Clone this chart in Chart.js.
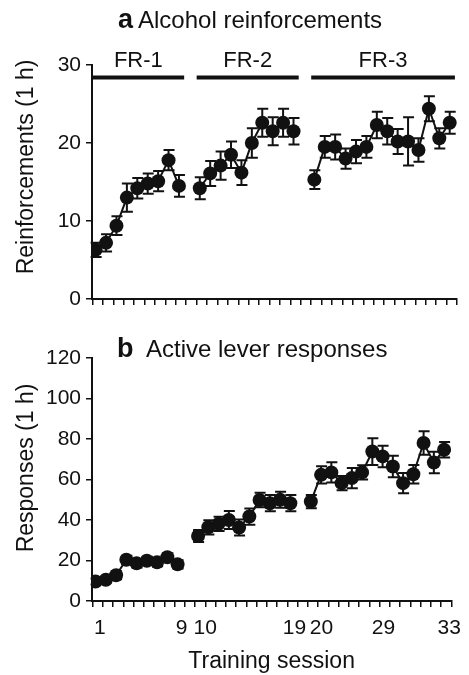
<!DOCTYPE html>
<html>
<head>
<meta charset="utf-8">
<script src="https://cdn.jsdelivr.net/npm/chart.js@4"></script>
<style>
  html, body { margin: 0; padding: 0; background: #fff; }
  #wrap { position: relative; width: 469px; height: 675px; }
  canvas { position: absolute; left: 0; }
</style>
</head>
<body>
<div id="wrap">
  <canvas id="chartA" width="469" height="320" style="top:0"></canvas>
  <canvas id="chartB" width="469" height="355" style="top:320px"></canvas>
</div>
<script>
// ===== DATA =====
const SESSIONS = [1, 2, 3, 4, 5, 6, 7, 8, 9, 10, 11, 12, 13, 14, 15, 16, 17,
                  18, 19, 20, 21, 22, 23, 24, 25, 26, 27, 28, 29, 30, 31, 32, 33];

const PHASES      = ['FR-1', 'FR-2', 'FR-3'];
const PHASE_FIRST = [1, 10, 20];
const PHASE_LAST  = [9, 19, 33];

// a: alcohol reinforcements (mean, SEM)
const REINF     = [6.3, 7.2, 9.4, 13.0, 14.2, 14.8, 15.1, 17.8, 14.5,
                   14.2, 16.1, 17.1, 18.5, 16.2, 20.0, 22.6, 21.5, 22.6, 21.5,
                   15.3, 19.5, 19.5, 18.0, 18.9, 19.5, 22.3, 21.5, 20.2, 20.2, 19.1, 24.4, 20.6, 22.6];
const REINF_SEM = [0.9, 1.1, 1.2, 1.8, 1.3, 1.3, 1.3, 1.3, 1.4,
                   1.4, 1.6, 1.8, 1.7, 1.6, 1.9, 1.8, 1.8, 1.8, 1.7,
                   1.2, 1.4, 1.6, 1.3, 1.5, 1.4, 1.7, 1.7, 1.6, 3.1, 1.5, 1.6, 1.3, 1.4];

// b: active lever responses (mean, SEM)
const RESP     = [9.6, 10.5, 12.7, 20.4, 18.6, 19.9, 19.1, 21.6, 18.1,
                  32.1, 36.4, 38.1, 40.0, 36.3, 41.7, 49.9, 48.3, 50.0, 48.3,
                  49.1, 62.3, 63.5, 58.2, 60.7, 63.5, 73.8, 71.4, 66.4, 58.2, 62.6, 78.0, 68.4, 74.7];
const RESP_SEM = [1.5, 1.5, 2.0, 2.0, 2.0, 2.0, 2.0, 2.0, 2.0,
                  3.0, 3.5, 3.5, 4.5, 4.0, 4.0, 3.6, 4.0, 4.0, 4.0,
                  3.3, 4.3, 5.0, 3.5, 5.0, 3.5, 6.6, 5.3, 5.3, 5.0, 4.6, 5.8, 5.3, 3.8];

const Y_TICKS_A = [0, 10, 20, 30];
const Y_TICKS_B = [0, 20, 40, 60, 80, 100, 120];

// printed session labels and where they sit along the axis (axis units)
const X_LABELS   = ['1', '9', '10', '19', '20', '29', '33'];
const X_LABEL_AT = [0.42, 8.39, 10.7, 19.4, 22.03, 28.08, 34.5];

// ===== STYLE =====
const INK  = '#111';
const FONT = "'Liberation Sans', Arial, Helvetica, sans-serif";
const X_MIN = -0.35, X_MAX = 34.7;

// one blank slot between phases on the x axis
function phaseOf(s) {
  let p = 0;
  while (p < PHASE_FIRST.length - 1 && s >= PHASE_FIRST[p + 1]) p++;
  return p;
}
function pos(s) { return s - 1 + phaseOf(s); }

function phaseSets(values, sem) {
  return PHASES.map((name, p) => {
    const idx = SESSIONS.map((s, i) => i).filter(i => phaseOf(SESSIONS[i]) === p);
    return {
      label: name,
      data: idx.map(i => ({ x: pos(SESSIONS[i]), y: values[i] })),
      sem:  idx.map(i => sem[i]),
      borderColor: INK, backgroundColor: INK, borderWidth: 2,
      pointRadius: 7, pointHoverRadius: 7, pointBorderWidth: 0,
      tension: 0,
    };
  });
}

// ===== PLUGINS =====
const errorBars = {
  id: 'errorBars',
  beforeDatasetsDraw(chart) {
    const ctx = chart.ctx, y = chart.scales.y;
    ctx.save();
    ctx.strokeStyle = INK; ctx.lineWidth = 2;
    chart.data.datasets.forEach((ds, di) => {
      chart.getDatasetMeta(di).data.forEach((pt, j) => {
        const v = ds.data[j].y, e = ds.sem[j];
        const top = y.getPixelForValue(v + e), bot = y.getPixelForValue(v - e);
        ctx.beginPath();
        ctx.moveTo(pt.x, top);     ctx.lineTo(pt.x, bot);
        ctx.moveTo(pt.x - 5, top); ctx.lineTo(pt.x + 6, top);
        ctx.moveTo(pt.x - 5, bot); ctx.lineTo(pt.x + 6, bot);
        ctx.stroke();
      });
    });
    ctx.restore();
  },
};

const phaseBars = {
  id: 'phaseBars',
  afterDraw(chart) {
    const { ctx, scales: { x, y } } = chart;
    const yb = y.getPixelForValue(28.4);
    ctx.save();
    ctx.strokeStyle = INK; ctx.fillStyle = INK; ctx.lineWidth = 4;
    ctx.font = `22px ${FONT}`; ctx.textAlign = 'center'; ctx.textBaseline = 'alphabetic';
    PHASES.forEach((name, p) => {
      const x0 = x.getPixelForValue(pos(PHASE_FIRST[p]) - 0.3);
      const x1 = x.getPixelForValue(pos(PHASE_LAST[p]) + 0.5);
      ctx.beginPath(); ctx.moveTo(x0, yb); ctx.lineTo(x1, yb); ctx.stroke();
      ctx.fillText(name, (x0 + x1) / 2, yb - 10);
    });
    ctx.restore();
  },
};

const headings = {
  id: 'headings',
  afterDraw(chart, args, o) {
    const ctx = chart.ctx;
    ctx.save();
    ctx.fillStyle = INK; ctx.textAlign = 'left'; ctx.textBaseline = 'alphabetic';
    ctx.font = `bold 27px ${FONT}`;
    ctx.fillText(o.letter, o.x, o.y);
    ctx.font = `24px ${FONT}`;
    ctx.fillText(o.text, o.textX, o.y);
    ctx.translate(o.titleX, o.titleY);
    ctx.rotate(-Math.PI / 2);
    ctx.textAlign = 'center'; ctx.textBaseline = 'middle';
    ctx.font = `23px ${FONT}`;
    ctx.fillText(o.yTitle, 0, 0);
    ctx.restore();
  },
};

// ===== AXES =====
function tickMarks(s) {
  const t = [];
  for (let v = s.min + 0.05; v <= s.max + 1e-6; v += 1) t.push({ value: v });
  s.ticks = t;
}

function xMarks(height) {
  return {
    type: 'linear', min: X_MIN, max: X_MAX,
    afterBuildTicks: tickMarks,
    afterFit: s => { s.height = height; },
    ticks: { display: false },
    grid: { drawOnChartArea: false, tickLength: 6, color: INK, lineWidth: 1.5 },
    border: { color: INK, width: 2 },
  };
}

function yAxis(max, ticks) {
  return {
    min: 0, max: max,
    afterBuildTicks: s => { s.ticks = ticks.map(v => ({ value: v })); },
    afterFit: s => { s.width = 92; },
    ticks: { color: INK, font: { size: 21, family: FONT }, padding: 5 },
    grid: { drawOnChartArea: false, tickLength: 6, color: INK, lineWidth: 1.5 },
    border: { color: INK, width: 2 },
  };
}

// ===== CHARTS =====
new Chart(document.getElementById('chartA'), {
  type: 'line',
  data: { datasets: phaseSets(REINF, REINF_SEM) },
  options: {
    responsive: false, animation: false,
    layout: { padding: { top: 65, right: 12, left: 0, bottom: 0 } },
    plugins: {
      legend: { display: false }, tooltip: { enabled: false },
      headings: { letter: 'a', text: 'Alcohol reinforcements', x: 118, textX: 138, y: 28,
                  yTitle: 'Reinforcements (1 h)', titleX: 27, titleY: 167 },
    },
    scales: { x: xMarks(21), y: yAxis(30, Y_TICKS_A) },
  },
  plugins: [errorBars, phaseBars, headings],
});

new Chart(document.getElementById('chartB'), {
  type: 'line',
  data: { datasets: phaseSets(RESP, RESP_SEM) },
  options: {
    responsive: false, animation: false,
    layout: { padding: { top: 38, right: 12, left: 0, bottom: 0 } },
    plugins: {
      legend: { display: false }, tooltip: { enabled: false },
      headings: { letter: 'b', text: 'Active lever responses', x: 117, textX: 146, y: 37,
                  yTitle: 'Responses (1 h)', titleX: 27, titleY: 148 },
    },
    scales: {
      x: xMarks(7),
      x2: {
        type: 'linear', position: 'bottom', min: X_MIN, max: X_MAX,
        afterBuildTicks: s => { s.ticks = X_LABEL_AT.map(v => ({ value: v })); },
        afterFit: s => { s.height = 67; },
        ticks: {
          color: INK, font: { size: 21, family: FONT }, padding: 8,
          maxRotation: 0, autoSkip: false,
          callback: (v, i) => X_LABELS[i],
        },
        grid: { display: false, drawTicks: false },
        border: { display: false },
        title: { display: true, text: 'Training session', color: INK,
                 font: { size: 23, family: FONT }, padding: { top: 4, bottom: 0 } },
      },
      y: yAxis(120, Y_TICKS_B),
    },
  },
  plugins: [errorBars, headings],
});
</script>
</body>
</html>
